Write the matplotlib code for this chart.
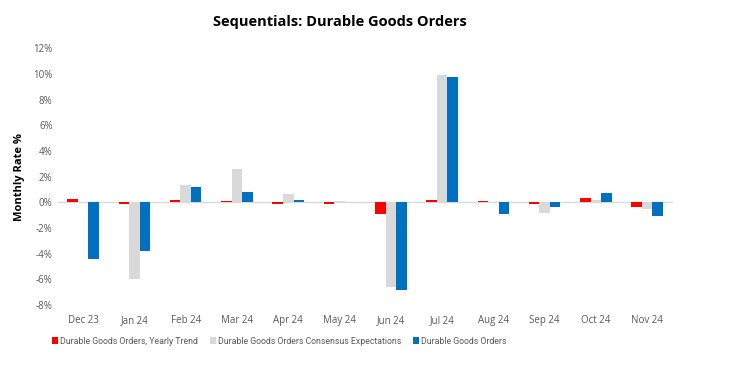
import matplotlib
matplotlib.use("Agg")
import matplotlib.pyplot as plt
import numpy as np
from matplotlib.ticker import FuncFormatter

plt.rcParams["font.family"] = ["Open Sans", "DejaVu Sans"]

months = ["Dec 23", "Jan 24", "Feb 24", "Mar 24", "Apr 24", "May 24",
          "Jun 24", "Jul 24", "Aug 24", "Sep 24", "Oct 24", "Nov 24"]
trend = [0.26, -0.1, 0.18, 0.1, -0.1, -0.1, -0.9, 0.2, 0.1, -0.1, 0.33, -0.35]
consensus = [0.0, -6.0, 1.35, 2.6, 0.65, 0.1, -6.6, 9.9, 0.0, -0.8, 0.18, -0.5]
actual = [-4.4, -3.8, 1.2, 0.8, 0.2, 0.0, -6.8, 9.8, -0.9, -0.35, 0.72, -1.1]

names = ["Durable Goods Orders, Yearly Trend",
         "Durable Goods Orders Consensus Expectations",
         "Durable Goods Orders"]
RED = "#FF0000"; GRAY = "#D9D9D9"; BLUE = "#0070C0"; TXT = "#595959"

fig = plt.figure(figsize=(7.54, 3.72), dpi=100)
ax = fig.add_axes([0.0763, 0.180, 0.816, 0.690])
x = np.arange(len(months))
w = 0.205
ax.bar(x - w, trend, w, color=RED, label=names[0])
ax.bar(x, consensus, w, color=GRAY, label=names[1])
ax.bar(x + w, actual, w, color=BLUE, label=names[2])
ax.axhline(0, color="#D9D9D9", lw=1, zorder=0)

ax.set_xlim(-0.5, len(months) - 0.5)
ax.set_ylim(-8, 12)
ax.set_yticks(np.arange(-8, 13, 2))
ax.yaxis.set_major_formatter(FuncFormatter(lambda v, p: f"{v:.0f}%"))
ax.set_xticks(x)
ax.set_xticklabels(months)
ax.tick_params(axis="both", length=0, labelsize=7, colors=TXT)
ax.tick_params(axis="x", pad=7)
for s in ax.spines.values():
    s.set_visible(False)
ax.set_ylabel("Monthly Rate %", fontsize=8, fontweight="bold", color="black", labelpad=6)

fig.text(340 / 754, 1 - 22 / 372, "Sequentials: Durable Goods Orders",
         ha="center", va="center", fontsize=10.5, fontweight="bold")
fig.legend(loc="center left", bbox_to_anchor=(44 / 754, 1 - 341 / 372), ncol=3, frameon=False,
           prop={"family": ["Roboto", "DejaVu Sans"], "size": 6.3},
           handlelength=0.7, handleheight=1.0, handletextpad=0.2,
           columnspacing=1.4, labelcolor=TXT)

fig.savefig("out.png", dpi=100)
